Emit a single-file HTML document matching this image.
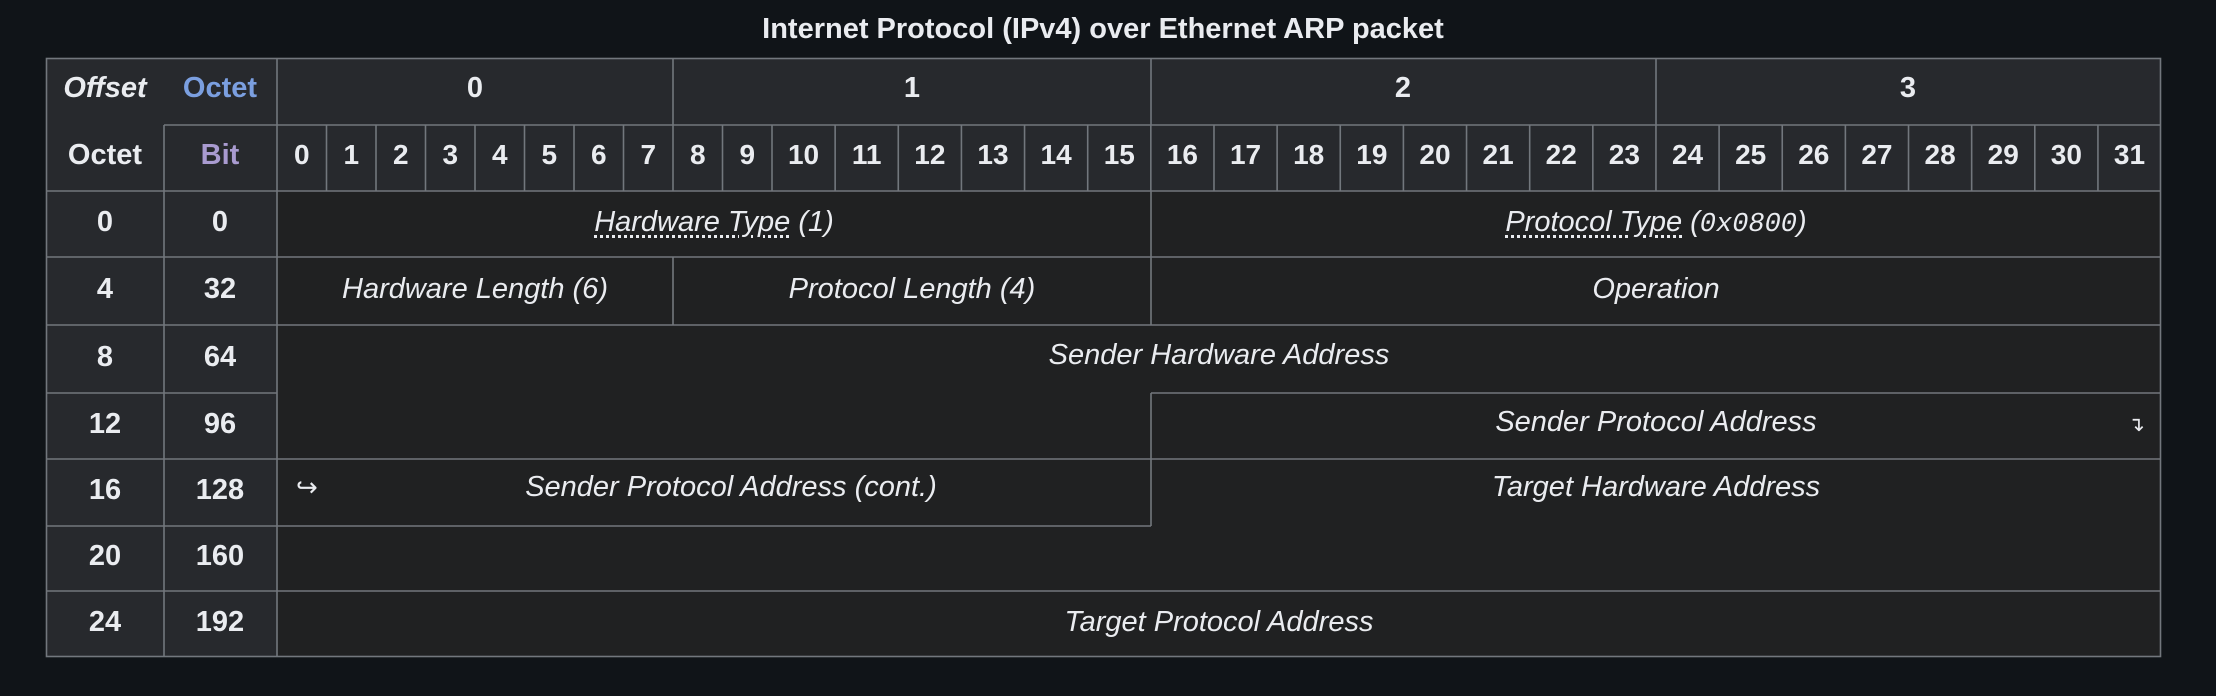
<!DOCTYPE html>
<html><head><meta charset="utf-8"><style>
html,body{margin:0;padding:0;background:#101418;}
#c{position:relative;width:2216px;height:696px;overflow:hidden;background:#101418;font-family:"Liberation Sans",Arial,sans-serif;color:#eaecf0;}
.t{position:absolute;width:1000px;text-align:center;line-height:40px;height:40px;font-size:29px;white-space:nowrap;margin-top:-2px;}
.b{font-weight:bold;}
.i{font-style:italic;}
.u{text-decoration:underline dotted;text-underline-offset:4px;}
.m{font-family:"Liberation Mono",monospace;font-style:italic;font-size:27px;}
.r{position:absolute;}
</style></head><body><div id="c">
<div class="r" style="left:46px;top:58px;width:2115px;height:133px;background:#27292d"></div>
<div class="r" style="left:46px;top:191px;width:231px;height:466px;background:#27292d"></div>
<div class="r" style="left:277px;top:191px;width:1884px;height:466px;background:#202122"></div>
<svg class="r" style="left:0;top:0" width="2216" height="696" stroke="#72777d" stroke-width="1.6" fill="none">
<rect x="46.5" y="58.5" width="2114" height="598"/>
<line x1="164" y1="125" x2="2161" y2="125"/>
<line x1="164" y1="125" x2="164" y2="657"/>
<line x1="277" y1="58" x2="277" y2="657"/>
<line x1="673" y1="58" x2="673" y2="125"/>
<line x1="1151" y1="58" x2="1151" y2="125"/>
<line x1="1656" y1="58" x2="1656" y2="125"/>
<g id="bits"></g>
<line x1="46" y1="191" x2="2161" y2="191"/>
<line x1="46" y1="257" x2="2161" y2="257"/>
<line x1="46" y1="325" x2="2161" y2="325"/>
<line x1="46" y1="393" x2="277" y2="393"/>
<line x1="1151" y1="393" x2="2161" y2="393"/>
<line x1="46" y1="459" x2="2161" y2="459"/>
<line x1="46" y1="526" x2="1151" y2="526"/>
<line x1="46" y1="591" x2="2161" y2="591"/>
<line x1="1151" y1="191" x2="1151" y2="325"/>
<line x1="673" y1="257" x2="673" y2="325"/>
<line x1="1151" y1="393" x2="1151" y2="526"/>
</svg>
<div class="t b" style="left:603px;top:11px">Internet Protocol (IPv4) over Ethernet ARP packet</div>
<div class="t b i" style="left:-395px;top:70px">Offset</div>
<div class="t b" style="left:-280px;top:70px;color:#7b9fe0">Octet</div>
<div class="t b" style="left:-395px;top:137px">Octet</div>
<div class="t b" style="left:-280px;top:137px;color:#a99bd0">Bit</div>
<div class="t b" style="left:-25px;top:70px">0</div>
<div class="t b" style="left:412px;top:70px">1</div>
<div class="t b" style="left:903px;top:70px">2</div>
<div class="t b" style="left:1408px;top:70px">3</div>
<div id="bn"></div>
<div class="t b" style="left:-395px;top:204px">0</div><div class="t b" style="left:-280px;top:204px">0</div>
<div class="t b" style="left:-395px;top:271px">4</div><div class="t b" style="left:-280px;top:271px">32</div>
<div class="t b" style="left:-395px;top:339px">8</div><div class="t b" style="left:-280px;top:339px">64</div>
<div class="t b" style="left:-395px;top:406px">12</div><div class="t b" style="left:-280px;top:406px">96</div>
<div class="t b" style="left:-395px;top:472px">16</div><div class="t b" style="left:-280px;top:472px">128</div>
<div class="t b" style="left:-395px;top:538px">20</div><div class="t b" style="left:-280px;top:538px">160</div>
<div class="t b" style="left:-395px;top:604px">24</div><div class="t b" style="left:-280px;top:604px">192</div>
<div class="t i" style="left:214px;top:204px"><span class="u">Hardware Type</span> (1)</div>
<div class="t i" style="left:1156px;top:204px"><span class="u">Protocol Type</span> (<span class="m">0x0800</span>)</div>
<div class="t i" style="left:-25px;top:271px">Hardware Length (6)</div>
<div class="t i" style="left:412px;top:271px">Protocol Length (4)</div>
<div class="t i" style="left:1156px;top:271px">Operation</div>
<div class="t i" style="left:719px;top:337px">Sender Hardware Address</div>
<div class="t i" style="left:1156px;top:404px">Sender Protocol Address</div>
<div class="r" style="left:2128px;top:410px;font-size:20px;line-height:30px">↴</div>
<div class="r" style="left:296px;top:470px;font-size:26px;line-height:34px">↪</div>
<div class="t i" style="left:231px;top:469px">Sender Protocol Address (cont.)</div>
<div class="t i" style="left:1156px;top:469px">Target Hardware Address</div>
<div class="t i" style="left:719px;top:604px">Target Protocol Address</div>
<script>
var xs=[];for(var i=0;i<=32;i++){xs.push(i<=10?277+i*49.5:772+(i-10)*63.14);}
var g=document.getElementById('bits'),h='';
for(var i=1;i<32;i++){h+='<line x1="'+xs[i]+'" y1="125" x2="'+xs[i]+'" y2="191"/>';}
g.innerHTML=h;
var bn=document.getElementById('bn'),s='';
for(var i=0;i<32;i++){var c=(xs[i]+xs[i+1])/2;s+='<div class="t b" style="left:'+(c-500)+'px;top:137px;font-size:28px">'+i+'</div>';}
bn.innerHTML=s;
</script>
</div></body></html>
